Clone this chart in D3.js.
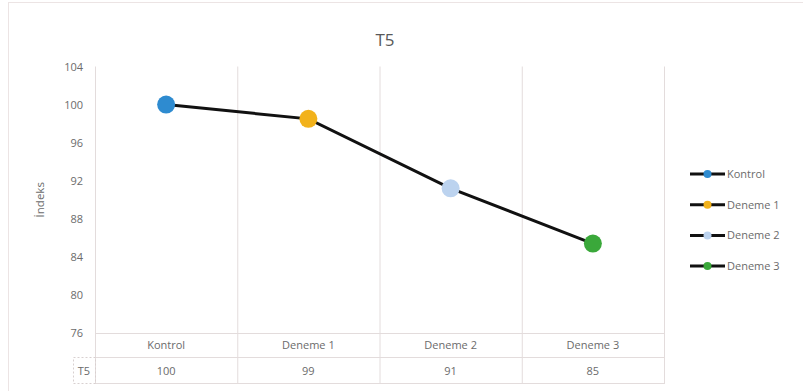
<!DOCTYPE html>
<html><head><meta charset="utf-8">
<script src="https://cdn.jsdelivr.net/npm/d3@7"></script>
<style>body{margin:0;background:#fff}svg{display:block}text{font-family:"Open Sans","Noto Sans",sans-serif}</style>
</head><body>
<svg id="c" width="803" height="391"></svg>
<script>
const categories = ["Kontrol", "Deneme 1", "Deneme 2", "Deneme 3"];
const values = [100, 98.5, 91.2, 85.4];
const tableValues = ["100", "99", "91", "85"];
const markerColors = ["#2e8bd0", "#f2b21b", "#bcd3ef", "#3aa83a"];
const yTicks = [76, 80, 84, 88, 92, 96, 100, 104];
const seriesName = "T5";
const yTitle = "İndeks";

(function () {
const svg = d3.select("#c");
const pLeft = 95, pRight = 664, pTop = 66.5, pBottom = 333;
const txt = "#6b6b6b", grid = "#e3dcdc";

// frame
svg.append("rect").attr("x", 8.5).attr("y", 2.5).attr("width", 820).attr("height", 420)
  .attr("fill", "#fff").attr("stroke", "#ece4e4");

const x = d3.scaleBand().domain(categories).range([pLeft, pRight]);
const y = d3.scaleLinear().domain([76, 104]).range([pBottom, pTop]);

const rowH1 = 357, rowH2 = 383;
categories.forEach(c => {
  svg.append("line").attr("x1", x(c) + x.bandwidth() + 0.5).attr("x2", x(c) + x.bandwidth() + 0.5)
    .attr("y1", pTop).attr("y2", rowH2).attr("stroke", grid);
});
svg.append("line").attr("x1", pLeft + 0.5).attr("x2", pLeft + 0.5).attr("y1", pTop).attr("y2", rowH2).attr("stroke", grid);
[pBottom, rowH1, rowH2].forEach(yy => {
  svg.append("line").attr("x1", pLeft).attr("x2", pRight + 1).attr("y1", yy + 0.5).attr("y2", yy + 0.5).attr("stroke", grid);
});
svg.append("rect").attr("x", 73.5).attr("y", rowH1 + 0.5).attr("width", pLeft - 73).attr("height", rowH2 - rowH1)
  .attr("fill", "none").attr("stroke", "#d8d0d0").attr("stroke-dasharray", "2,2");

const yAxis = d3.axisLeft(y).tickValues(yTicks).tickSize(0).tickPadding(8);
const ga = svg.append("g").attr("transform", `translate(${pLeft},0)`).call(yAxis);
ga.select(".domain").remove();
ga.selectAll("text").attr("fill", txt).attr("font-size", 11).attr("dx", -4).attr("font-family", null);

svg.append("text").attr("transform", `translate(44,${(pTop + pBottom) / 2}) rotate(-90)`)
  .attr("text-anchor", "middle").attr("fill", txt).attr("font-size", 11.5).text(yTitle);

svg.append("text").attr("x", 385).attr("y", 46).attr("text-anchor", "middle")
  .attr("fill", "#595959").attr("font-size", 17).text(seriesName);

categories.forEach((c, i) => {
  svg.append("text").attr("x", x(c) + x.bandwidth() / 2).attr("y", 349).attr("text-anchor", "middle")
    .attr("fill", txt).attr("font-size", 11).text(c);
  svg.append("text").attr("x", x(c) + x.bandwidth() / 2).attr("y", 375).attr("text-anchor", "middle")
    .attr("fill", txt).attr("font-size", 11).text(tableValues[i]);
});
svg.append("text").attr("x", 84).attr("y", 375).attr("text-anchor", "middle").attr("fill", txt).attr("font-size", 11).text(seriesName);

const line = d3.line().x((d, i) => x(categories[i]) + x.bandwidth() / 2).y(d => y(d));
svg.append("path").datum(values).attr("d", line).attr("fill", "none").attr("stroke", "#111").attr("stroke-width", 3);

svg.selectAll("circle.m").data(values).join("circle").attr("class", "m")
  .attr("cx", (d, i) => x(categories[i]) + x.bandwidth() / 2).attr("cy", d => y(d))
  .attr("r", 9).attr("fill", (d, i) => markerColors[i]);

const lg = svg.append("g");
categories.forEach((c, i) => {
  const ly = 174 + i * 30.7;
  lg.append("line").attr("x1", 690).attr("x2", 725).attr("y1", ly).attr("y2", ly).attr("stroke", "#111").attr("stroke-width", 3);
  lg.append("circle").attr("cx", 707.5).attr("cy", ly).attr("r", 4).attr("fill", markerColors[i]);
  lg.append("text").attr("x", 727).attr("y", ly + 4).attr("fill", txt).attr("font-size", 11).text(c);
});
})();
</script>
</body></html>
